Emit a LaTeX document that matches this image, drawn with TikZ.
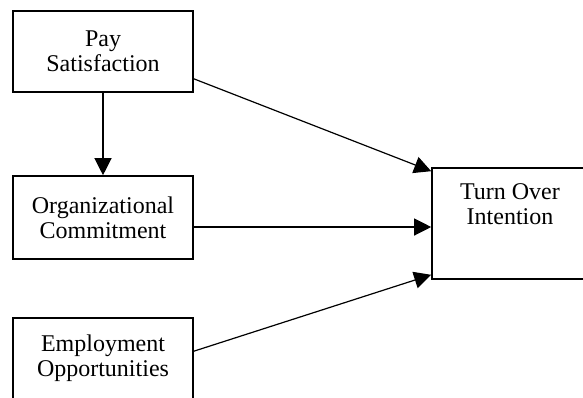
\documentclass[tikz,border=0pt]{standalone}
\usepackage{fontspec}
\setmainfont{Liberation Serif}
\usetikzlibrary{arrows.meta}
\begin{document}
\begin{tikzpicture}[x=0.5pt, y=-0.5pt,
        box/.style={draw, line width=0.8pt, align=center, font=\fontsize{12}{12.6}\selectfont},
        arr/.style={line width=0.6pt, -{Triangle[length=8.5pt, width=8.5pt]}}]
        \useasboundingbox (0,0) rectangle (583,397);
        % Draw the boxes
        \node[box, minimum width=90pt, minimum height=40.5pt] (pay) at (103, 51.5) {Pay\\Satisfaction};
        \node[box, minimum width=90pt, minimum height=41.5pt] (org) at (103, 217.5) {Organizational\\Commitment};
        \node[box, minimum width=90pt, minimum height=46pt, text depth=8pt] (emp) at (103, 364) {Employment\\Opportunities};
        \node[box, minimum width=78pt, minimum height=55.5pt,
            label={[align=center, anchor=north, yshift=-4.5pt, font=\fontsize{12}{12.6}\selectfont]north:Turn Over\\Intention}] (toi) at (510, 223.5) {};
        % Draw the arrows
        \draw[arr] (pay) -- (org);
        \draw[arr] ([yshift=7pt]pay.south east) -- ([yshift=-2pt]toi.north west);
        \draw[arr] ([yshift=-4.75pt]org.east) -- ([yshift=-4.75pt]org.east -| toi.west);
        \draw[arr] ([yshift=-17pt]emp.north east) -- ([yshift=2.5pt]toi.south west);
    \end{tikzpicture}
\end{document}
